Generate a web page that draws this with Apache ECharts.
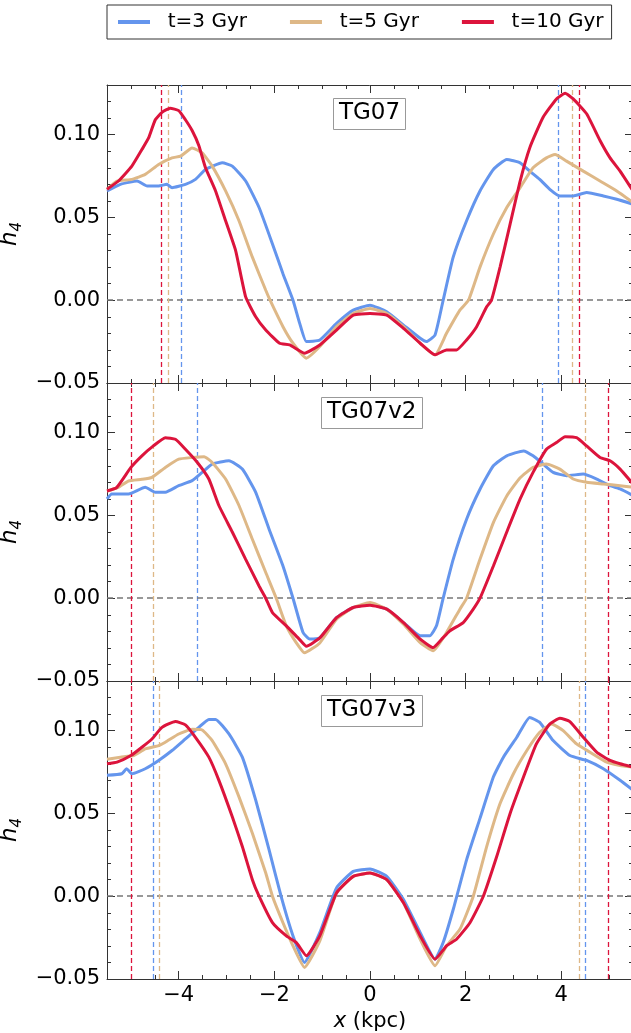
<!DOCTYPE html>
<html><head><meta charset="utf-8">
<script src="https://cdn.jsdelivr.net/npm/echarts@6/dist/echarts.min.js"></script>
<style>html,body{margin:0;padding:0;background:#fff}#c{width:631px;height:1033px}</style>
</head><body><div id="c"></div>
<script>
// ---------------- data ----------------
const seriesNames = ['t=3 Gyr', 't=5 Gyr', 't=10 Gyr'];
const panelNames = ['TG07', 'TG07v2', 'TG07v3'];
const xMajorTicks = [-4, -2, 0, 2, 4];
const xMinorTicks = [-5, -4.5, -3.5, -3, -2.5, -1.5, -1, -0.5, 0.5, 1, 1.5, 2.5, 3, 3.5, 4.5, 5];
const yMajorTicks = [-0.05, 0, 0.05, 0.10];
const yMinorTicks = [-0.04, -0.03, -0.02, -0.01, 0.01, 0.02, 0.03, 0.04, 0.06, 0.07, 0.08, 0.09, 0.11, 0.12];

// TG07
const tg07_t3 = [[-5.5,0.066],[-5.22,0.070],[-4.87,0.072],[-4.66,0.069],[-4.42,0.069],[-4.25,0.070],[-4.14,0.068],[-3.86,0.070],[-3.65,0.073],[-3.44,0.079],[-3.09,0.083],[-2.88,0.081],[-2.60,0.072],[-2.32,0.056],[-2.04,0.034],[-1.82,0.016],[-1.61,0.0],[-1.47,-0.014],[-1.33,-0.025],[-1.05,-0.024],[-0.70,-0.014],[-0.35,-0.006],[0,-0.003],[0.35,-0.007],[0.70,-0.015],[1.05,-0.023],[1.18,-0.025],[1.36,-0.021],[1.53,0.0],[1.74,0.026],[2.02,0.048],[2.30,0.066],[2.58,0.079],[2.86,0.085],[3.14,0.083],[3.34,0.078],[3.55,0.073],[3.76,0.067],[3.97,0.063],[4.25,0.063],[4.53,0.065],[4.88,0.063],[5.16,0.061],[5.5,0.058]];
const tg07_t5 = [[-5.5,0.067],[-5.29,0.072],[-4.98,0.073],[-4.70,0.076],[-4.42,0.082],[-4.14,0.086],[-3.96,0.087],[-3.72,0.092],[-3.51,0.089],[-3.30,0.081],[-3.02,0.066],[-2.74,0.048],[-2.46,0.026],[-2.18,0.006],[-2.09,0.0],[-1.82,-0.016],[-1.61,-0.026],[-1.33,-0.035],[-1.05,-0.028],[-0.70,-0.016],[-0.35,-0.008],[0,-0.005],[0.35,-0.008],[0.70,-0.016],[1.05,-0.026],[1.36,-0.033],[1.60,-0.020],[1.88,-0.006],[2.06,0.0],[2.30,0.020],[2.58,0.040],[2.86,0.056],[3.14,0.068],[3.41,0.080],[3.69,0.086],[3.87,0.088],[4.11,0.084],[4.46,0.078],[4.81,0.072],[5.16,0.066],[5.5,0.059]];
const tg07_t10 = [[-5.5,0.067],[-5.26,0.072],[-4.98,0.081],[-4.77,0.091],[-4.63,0.098],[-4.49,0.109],[-4.35,0.1135],[-4.18,0.116],[-4.0,0.1145],[-3.86,0.109],[-3.72,0.1025],[-3.58,0.0935],[-3.44,0.080],[-3.23,0.066],[-3.02,0.048],[-2.81,0.030],[-2.60,0.002],[-2.39,-0.010],[-2.18,-0.018],[-1.89,-0.026],[-1.68,-0.027],[-1.37,-0.032],[-1.05,-0.027],[-0.70,-0.018],[-0.35,-0.009],[0,-0.008],[0.35,-0.009],[0.70,-0.017],[1.05,-0.026],[1.36,-0.033],[1.60,-0.030],[1.81,-0.030],[2.02,-0.024],[2.23,-0.016],[2.44,-0.004],[2.54,0.0],[2.72,0.020],[2.93,0.046],[3.14,0.072],[3.34,0.092],[3.62,0.1105],[3.90,0.1216],[4.08,0.125],[4.25,0.1216],[4.53,0.1126],[4.81,0.0965],[5.02,0.086],[5.23,0.078],[5.5,0.066]];
const tg07_dashed = [[-3.94, 3.94], [-4.22, 4.23], [-4.37, 4.38]];

// TG07v2
const tg07v2_t3 = [[-5.5,0.060],[-5.4,0.063],[-5.05,0.063],[-4.70,0.067],[-4.49,0.064],[-4.28,0.064],[-4.0,0.068],[-3.72,0.071],[-3.51,0.076],[-3.30,0.081],[-2.95,0.083],[-2.67,0.078],[-2.39,0.064],[-2.11,0.0417],[-1.82,0.0195],[-1.61,0.0],[-1.40,-0.0207],[-1.26,-0.0247],[-1.05,-0.024],[-0.70,-0.0117],[-0.35,-0.0056],[0,-0.0036],[0.35,-0.0066],[0.70,-0.0147],[1.05,-0.0227],[1.25,-0.0227],[1.39,-0.0167],[1.53,0.0],[1.74,0.0235],[2.02,0.0477],[2.30,0.0658],[2.58,0.080],[2.86,0.086],[3.21,0.089],[3.41,0.086],[3.62,0.081],[3.83,0.076],[4.11,0.074],[4.46,0.075],[4.74,0.072],[5.02,0.068],[5.23,0.066],[5.5,0.062]];
const tg07v2_t5 = [[-5.5,0.0648],[-5.26,0.067],[-5.05,0.0708],[-4.77,0.0718],[-4.56,0.073],[-4.28,0.079],[-4.0,0.084],[-3.72,0.085],[-3.47,0.0855],[-3.30,0.082],[-3.02,0.072],[-2.74,0.056],[-2.46,0.0356],[-2.18,0.0155],[-1.96,0.0],[-1.75,-0.0167],[-1.54,-0.027],[-1.37,-0.033],[-1.05,-0.027],[-0.70,-0.0127],[-0.35,-0.0056],[0,-0.0026],[0.35,-0.0066],[0.70,-0.0157],[1.05,-0.0268],[1.32,-0.0318],[1.60,-0.0207],[1.88,-0.0066],[2.02,0.0],[2.30,0.0235],[2.58,0.0457],[2.86,0.0618],[3.14,0.0728],[3.41,0.079],[3.69,0.081],[3.97,0.078],[4.25,0.072],[4.53,0.070],[4.88,0.069],[5.23,0.068],[5.5,0.067]];
const tg07v2_t10 = [[-5.5,0.0648],[-5.30,0.0668],[-5.0,0.079],[-4.77,0.086],[-4.53,0.092],[-4.28,0.097],[-4.07,0.096],[-3.86,0.090],[-3.61,0.082],[-3.37,0.072],[-3.16,0.056],[-2.88,0.040],[-2.60,0.0235],[-2.32,0.0074],[-2.18,0.0],[-2.04,-0.0087],[-1.75,-0.0167],[-1.47,-0.025],[-1.33,-0.029],[-1.05,-0.024],[-0.70,-0.0117],[-0.35,-0.0056],[0,-0.0042],[0.35,-0.0066],[0.70,-0.0147],[1.05,-0.0247],[1.32,-0.0298],[1.50,-0.0247],[1.67,-0.0197],[1.95,-0.0147],[2.16,-0.0066],[2.30,0.0],[2.58,0.0195],[2.86,0.040],[3.14,0.060],[3.41,0.076],[3.69,0.090],[3.90,0.094],[4.08,0.0976],[4.32,0.097],[4.53,0.092],[4.81,0.085],[5.02,0.083],[5.23,0.078],[5.5,0.069]];
const tg07v2_dashed = [[-3.61, 3.61], [-4.53, 4.51], [-5.0, 4.99]];

// TG07v3
const tg07v3_t3 = [[-5.5,0.073],[-5.19,0.074],[-5.09,0.077],[-4.98,0.074],[-4.70,0.077],[-4.42,0.082],[-4.14,0.088],[-3.86,0.095],[-3.58,0.102],[-3.37,0.1068],[-3.23,0.1068],[-2.95,0.098],[-2.67,0.084],[-2.39,0.058],[-2.11,0.028],[-1.86,0.0],[-1.61,-0.024],[-1.37,-0.040],[-1.05,-0.022],[-0.70,0.005],[-0.35,0.015],[0,0.0165],[0.35,0.012],[0.70,-0.002],[1.05,-0.022],[1.36,-0.038],[1.53,-0.028],[1.74,-0.008],[2.02,0.022],[2.30,0.047],[2.58,0.072],[2.79,0.084],[3.07,0.096],[3.34,0.108],[3.55,0.105],[3.83,0.094],[4.18,0.085],[4.53,0.082],[4.88,0.077],[5.23,0.070],[5.5,0.064]];
const tg07v3_t5 = [[-5.5,0.0827],[-5.22,0.084],[-4.94,0.085],[-4.70,0.089],[-4.42,0.091],[-4.28,0.093],[-4.0,0.098],[-3.72,0.1008],[-3.51,0.1004],[-3.30,0.094],[-3.02,0.080],[-2.74,0.060],[-2.46,0.038],[-2.18,0.014],[-2.04,0.0],[-1.82,-0.016],[-1.61,-0.030],[-1.37,-0.043],[-1.05,-0.027],[-0.70,0.002],[-0.35,0.012],[0,0.014],[0.35,0.010],[0.70,-0.004],[1.05,-0.026],[1.36,-0.042],[1.60,-0.030],[1.88,-0.020],[2.16,0.0],[2.44,0.030],[2.72,0.056],[3.0,0.074],[3.28,0.088],[3.55,0.099],[3.80,0.104],[4.04,0.100],[4.32,0.092],[4.60,0.087],[4.95,0.081],[5.23,0.079],[5.5,0.078]];
const tg07v3_t10 = [[-5.5,0.080],[-5.29,0.081],[-5.0,0.085],[-4.77,0.090],[-4.56,0.095],[-4.35,0.102],[-4.07,0.1055],[-3.86,0.1035],[-3.65,0.096],[-3.37,0.084],[-3.16,0.070],[-2.88,0.048],[-2.67,0.030],[-2.46,0.010],[-2.32,0.0],[-2.04,-0.016],[-1.75,-0.024],[-1.54,-0.028],[-1.33,-0.036],[-1.05,-0.024],[-0.70,0.002],[-0.35,0.012],[0,0.014],[0.35,0.010],[0.70,-0.004],[1.05,-0.024],[1.36,-0.038],[1.60,-0.030],[1.81,-0.026],[2.09,-0.016],[2.37,0.0],[2.65,0.024],[2.93,0.050],[3.21,0.072],[3.48,0.092],[3.76,0.104],[3.97,0.1075],[4.18,0.1055],[4.46,0.096],[4.74,0.087],[5.02,0.082],[5.23,0.080],[5.5,0.078]];
const tg07v3_dashed = [[-4.53, 4.51], [-4.40, 4.38], [-5.0, 4.99]];

const panelData = [[tg07_t3, tg07_t5, tg07_t10], [tg07v2_t3, tg07v2_t5, tg07v2_t10], [tg07v3_t3, tg07v3_t5, tg07v3_t10]];
const panelDashed = [tg07_dashed, tg07v2_dashed, tg07v3_dashed];

// ---------------- style ----------------
const colors = ['#6495ED', '#DEB887', '#DC143C'];
const FONT = 'DejaVu Sans';
const AX = '#333';
const G_LEFT = 107, G_WIDTH = 526, G_TOP = 85, G_H = 298;

const minus = v => (v < 0 ? '\u2212' : '') + Math.abs(v);
const yFmt = v => (v < -1e-9 ? '\u2212' : '') + Math.abs(v).toFixed(2);

const grids = [], xAxes = [], yAxes = [], series = [], titles = [];

for (let p = 0; p < 3; p++) {
  grids.push({left: G_LEFT, width: G_WIDTH, top: G_TOP + p * G_H, height: G_H, outerBoundsMode: 'none', containLabel: false});
  const last = p === 2;
  const mkX = (pos, ticks, len, label, line) => ({
    type: 'value', gridIndex: p, min: -5.5, max: 5.5, position: pos,
    axisLine: {show: line, onZero: false, lineStyle: {color: AX, width: 1}},
    axisTick: {show: true, inside: true, length: len, customValues: ticks, lineStyle: {color: AX, width: 1}},
    axisLabel: {show: label, customValues: xMajorTicks, formatter: minus, fontSize: 21, fontFamily: FONT, color: '#000', margin: 6},
    splitLine: {show: false},
    name: (label ? '{i|x} (kpc)' : ''), nameLocation: 'middle', nameGap: 32,
    nameTextStyle: {fontSize: 21, fontFamily: FONT, color: '#000', rich: {i: {fontStyle: 'italic', fontSize: 21, fontFamily: FONT, color: '#000'}}}
  });
  const mkY = (pos, ticks, len, label, line) => ({
    type: 'value', gridIndex: p, min: -0.05, max: 0.13, position: pos,
    axisLine: {show: line, onZero: false, lineStyle: {color: AX, width: 1}},
    axisTick: {show: true, inside: true, length: len, customValues: ticks, lineStyle: {color: AX, width: 1}},
    axisLabel: {show: label, customValues: yMajorTicks, formatter: yFmt, fontSize: 21, fontFamily: FONT, color: '#000', margin: 7},
    splitLine: {show: false},
    name: (label ? '{h|h}{s|4}' : ''), nameLocation: 'middle', nameRotate: 90, nameGap: 74,
    nameTextStyle: {color: '#000', rich: {
      h: {fontStyle: 'italic', fontSize: 23, fontFamily: FONT, color: '#000', lineHeight: 30, verticalAlign: 'middle'},
      s: {fontStyle: 'italic', fontSize: 15, fontFamily: FONT, color: '#000', lineHeight: 30, verticalAlign: 'bottom'}
    }}
  });
  xAxes.push(mkX('bottom', xMajorTicks, 8, last, true));
  xAxes.push(mkX('bottom', xMinorTicks, 4, false, false));
  xAxes.push(mkX('top', xMajorTicks, 8, false, true));
  xAxes.push(mkX('top', xMinorTicks, 4, false, false));
  yAxes.push(mkY('left', yMajorTicks, 8, true, true));
  yAxes.push(mkY('left', yMinorTicks, 4, false, false));
  yAxes.push(mkY('right', yMajorTicks, 8, false, true));
  yAxes.push(mkY('right', yMinorTicks, 4, false, false));

  for (let s = 0; s < 3; s++) {
    const mlData = panelDashed[p][s].map(x => ({xAxis: x, lineStyle: {color: colors[s], width: 1.3, type: [5, 3]}}));
    if (s === 0) mlData.push({yAxis: 0, lineStyle: {color: '#777', width: 1.5, type: [6, 4]}});
    series.push({
      type: 'line', name: seriesNames[s], xAxisIndex: p * 4, yAxisIndex: p * 4,
      data: panelData[p][s], showSymbol: false, symbol: 'none', smooth: 0.15,
      lineStyle: {color: colors[s], width: 3}, itemStyle: {color: colors[s]},
      z: 3 + s, animation: false,
      markLine: {silent: true, symbol: 'none', label: {show: false}, data: mlData, animation: false, z: 2}
    });
  }
}

titles.push({text: panelNames[0], left: 333, top: 98});
titles.push({text: panelNames[1], left: 321, top: 397});
titles.push({text: panelNames[2], left: 321, top: 695});
titles.forEach(t => Object.assign(t, {
  borderColor: '#999', borderWidth: 1, padding: [4, 6, 5, 6], backgroundColor: '#fff',
  textStyle: {fontSize: 23, fontWeight: 'normal', fontFamily: FONT, color: '#000'}
}));

const chart = echarts.init(document.getElementById('c'), null, {renderer: 'canvas'});
chart.setOption({
  animation: false,
  backgroundColor: '#fff',
  title: titles,
  legend: {
    data: seriesNames, left: 107, top: 5, orient: 'horizontal',
    padding: [7, 8, 7, 11], itemWidth: 32, itemHeight: 4, itemGap: 43, icon: 'rect',
    borderColor: '#333', borderWidth: 1,
    formatter: n => '  ' + n,
    textStyle: {fontSize: 20, fontFamily: FONT, color: '#000'}
  },
  grid: grids, xAxis: xAxes, yAxis: yAxes, series: series
});
</script></body></html>
